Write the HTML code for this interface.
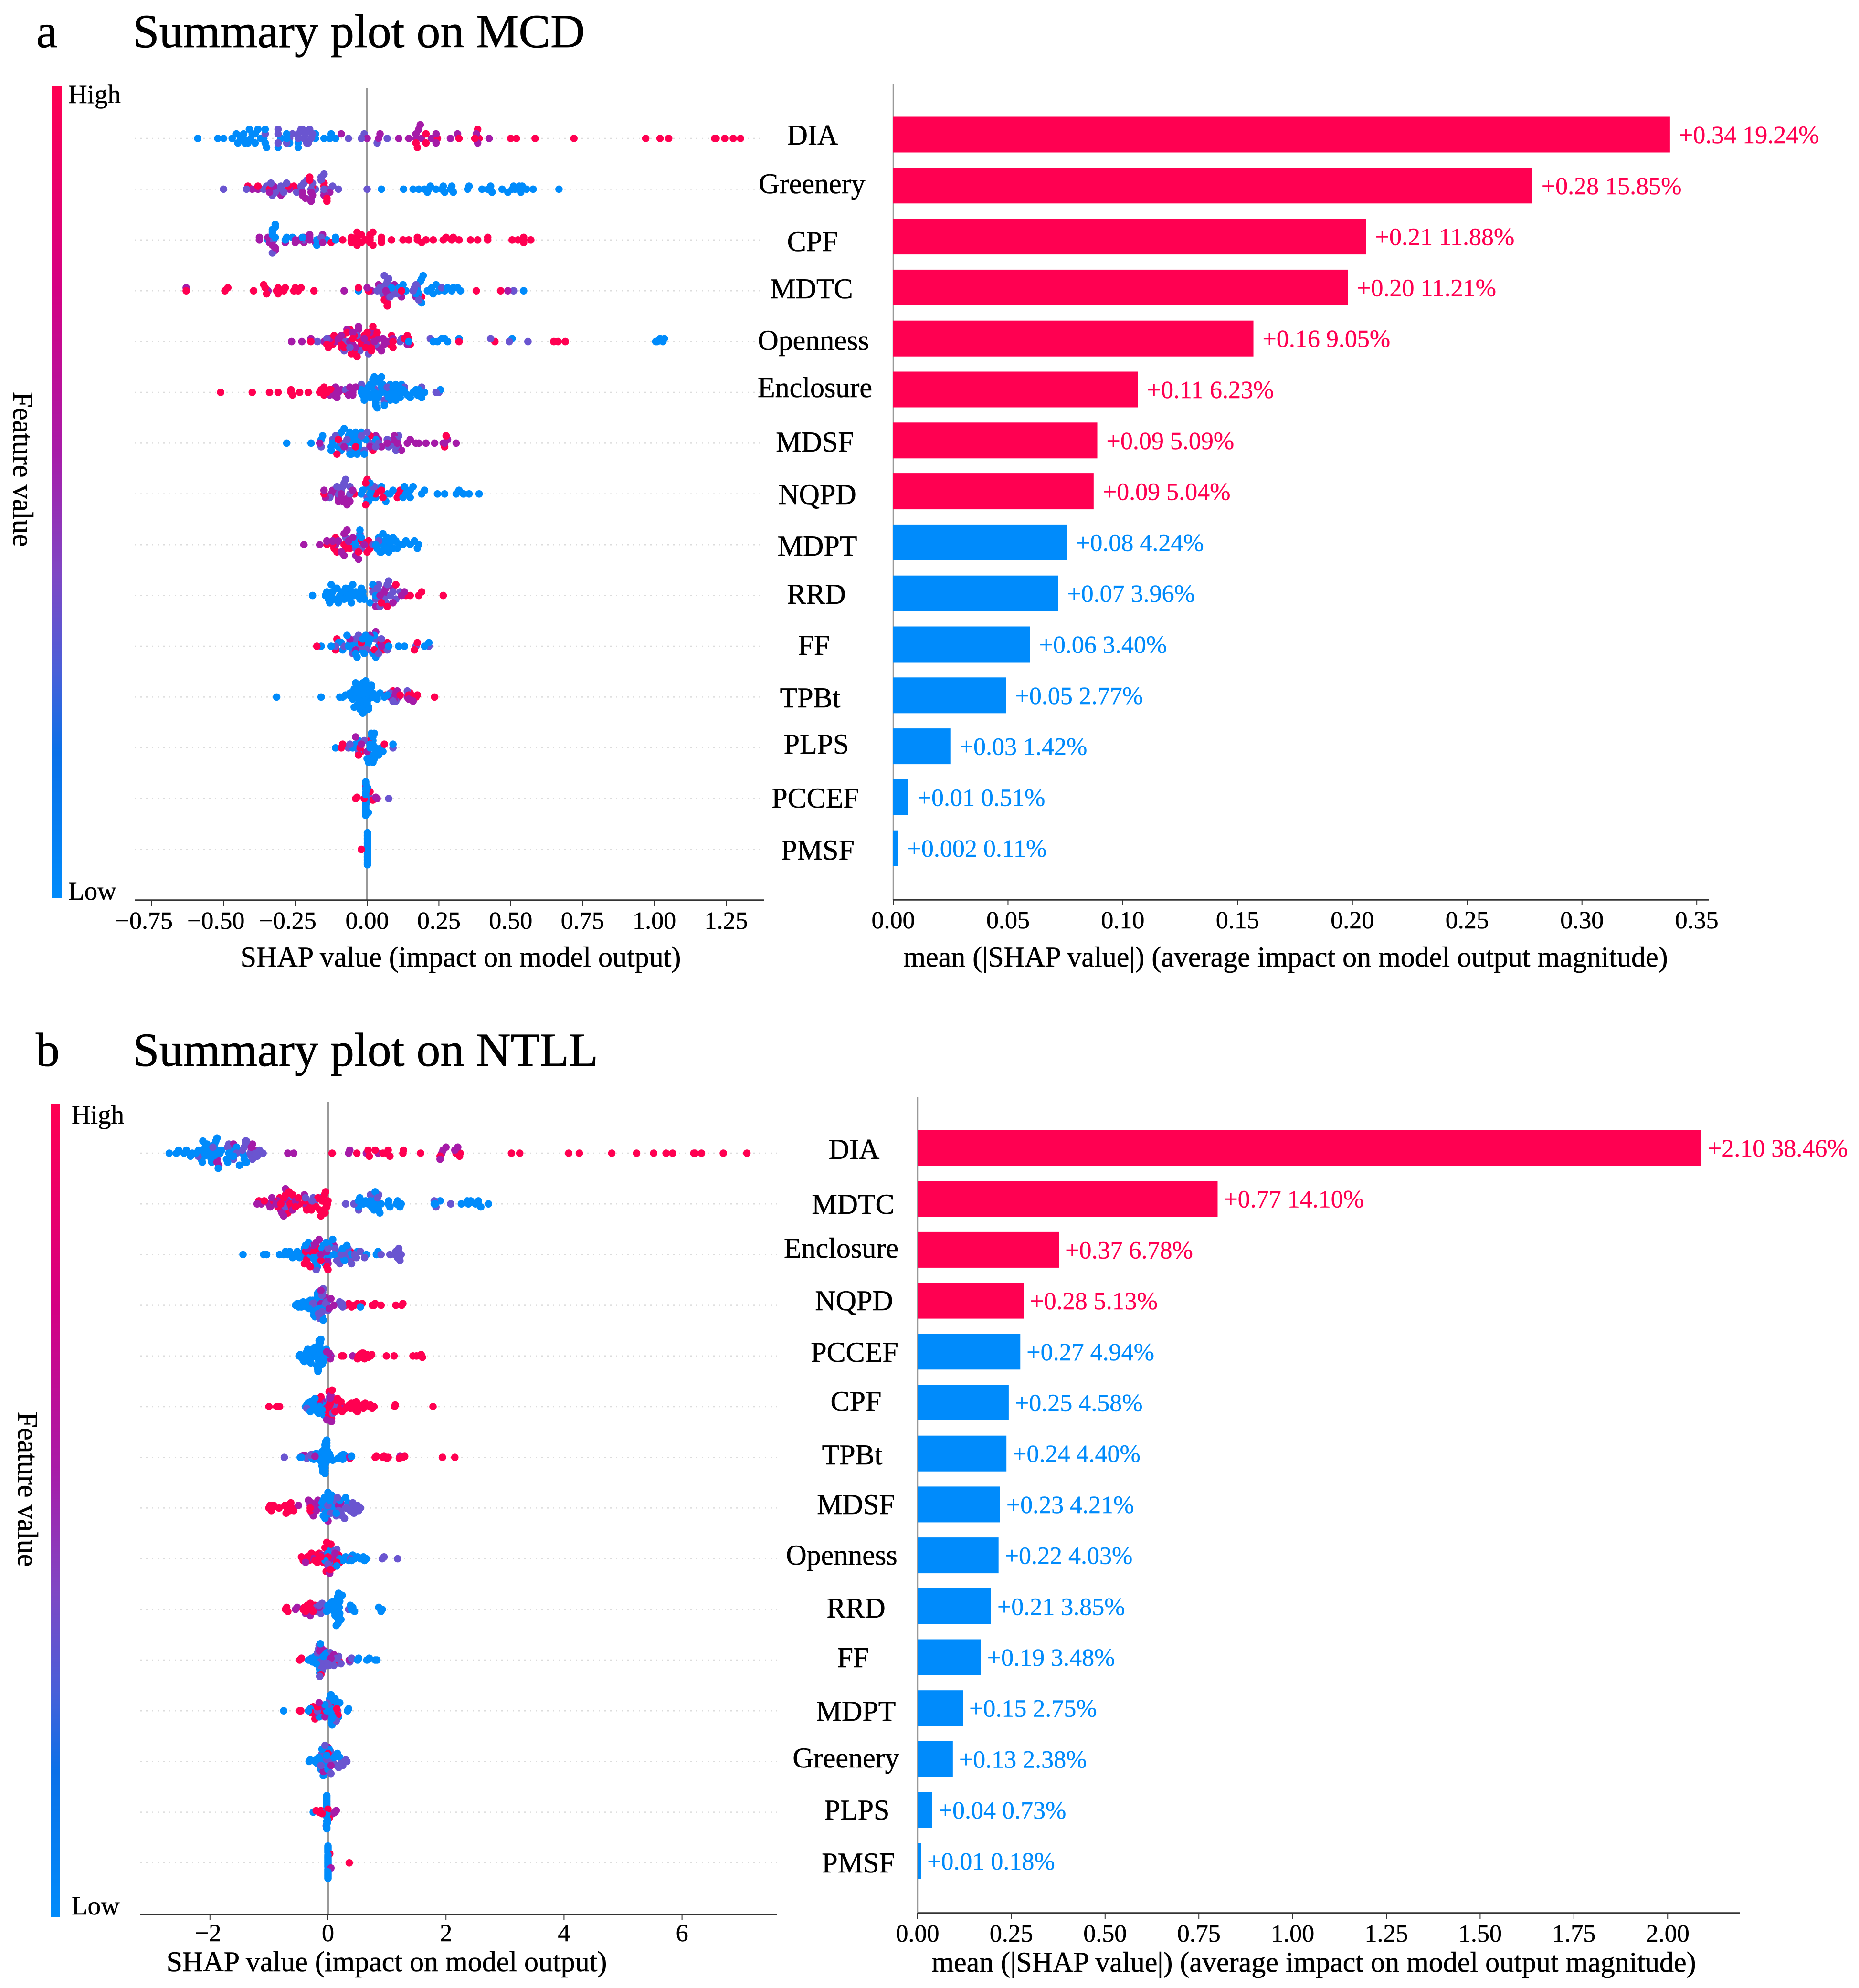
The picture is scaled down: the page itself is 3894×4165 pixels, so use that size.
<!DOCTYPE html>
<html lang="en">
<head>
<meta charset="utf-8">
<title>SHAP summary plots on MCD and NTLL</title>
<style>
  html,body{margin:0;padding:0;background:#fff;}
  svg{display:block;}
  text{font-family:"Liberation Serif","Times New Roman",serif;fill:#000;}
  .title{font-size:100px;stroke:#000;stroke-width:.8px;}
  .axis-title{font-size:60px;text-anchor:middle;stroke:#000;stroke-width:.6px;}
  .feature{font-size:60px;text-anchor:middle;stroke:#000;stroke-width:.6px;}
  .cbar{font-size:55px;stroke:#000;stroke-width:.5px;}
  .tick{font-size:52px;text-anchor:middle;stroke:#000;stroke-width:.5px;}
  .val{font-size:52px;}
</style>
</head>
<body>
<svg id="chart" xmlns="http://www.w3.org/2000/svg" width="3894" height="4165" viewBox="0 0 3894 4165">
  <defs>
    <linearGradient id="cbarGrad" x1="0" y1="0" x2="0" y2="1">
      <stop offset="0" stop-color="#ff0051"/>
      <stop offset="0.25" stop-color="#d40083"/>
      <stop offset="0.45" stop-color="#a81ba8"/>
      <stop offset="0.6" stop-color="#7f47c4"/>
      <stop offset="0.72" stop-color="#4a5fd8"/>
      <stop offset="0.82" stop-color="#0a70e8"/>
      <stop offset="1" stop-color="#008bfb"/>
    </linearGradient>
  </defs>
  <rect x="0" y="0" width="3894" height="4165" fill="#fff"/>

  <!-- Panel a -->
  <text class="title" x="76" y="99">a</text>
  <text class="title" x="278" y="99">Summary plot on MCD</text>
  <rect x="108" y="181" width="21" height="1701" fill="url(#cbarGrad)"/>
  <text class="cbar" x="143" y="216">High</text>
  <text class="cbar" x="143" y="1885">Low</text>
  <text class="axis-title" transform="translate(28,983) rotate(90)">Feature value</text>
  <g id="mcdSwarm"></g>
  <g id="mcdBars"></g>
  <text class="axis-title" x="965" y="2025">SHAP value (impact on model output)</text>
  <text class="axis-title" x="2693" y="2025">mean (|SHAP value|) (average impact on model output magnitude)</text>
  <g>
    <text class="feature" x="1702" y="303">DIA</text>
    <text class="feature" x="1701" y="405">Greenery</text>
    <text class="feature" x="1702" y="526">CPF</text>
    <text class="feature" x="1700" y="625">MDTC</text>
    <text class="feature" x="1704" y="733">Openness</text>
    <text class="feature" x="1707" y="832">Enclosure</text>
    <text class="feature" x="1707" y="946">MDSF</text>
    <text class="feature" x="1712" y="1056">NQPD</text>
    <text class="feature" x="1712" y="1164">MDPT</text>
    <text class="feature" x="1710" y="1265">RRD</text>
    <text class="feature" x="1705" y="1372">FF</text>
    <text class="feature" x="1697" y="1482">TPBt</text>
    <text class="feature" x="1710" y="1579">PLPS</text>
    <text class="feature" x="1708" y="1692">PCCEF</text>
    <text class="feature" x="1713" y="1801">PMSF</text>
  </g>

  <!-- Panel b -->
  <text class="title" x="75" y="2233">b</text>
  <text class="title" x="278" y="2233">Summary plot on NTLL</text>
  <rect x="106" y="2314" width="20" height="1702" fill="url(#cbarGrad)"/>
  <text class="cbar" x="150" y="2354">High</text>
  <text class="cbar" x="150" y="4011">Low</text>
  <text class="axis-title" transform="translate(38,3120) rotate(90)">Feature value</text>
  <g id="ntllSwarm"></g>
  <g id="ntllBars"></g>
  <text class="axis-title" x="810" y="4130">SHAP value (impact on model output)</text>
  <text class="axis-title" x="2752" y="4131">mean (|SHAP value|) (average impact on model output magnitude)</text>
  <g>
    <text class="feature" x="1789" y="2428">DIA</text>
    <text class="feature" x="1787" y="2543">MDTC</text>
    <text class="feature" x="1762" y="2635">Enclosure</text>
    <text class="feature" x="1789" y="2745">NQPD</text>
    <text class="feature" x="1790" y="2853">PCCEF</text>
    <text class="feature" x="1793" y="2956">CPF</text>
    <text class="feature" x="1785" y="3068">TPBt</text>
    <text class="feature" x="1793" y="3172">MDSF</text>
    <text class="feature" x="1763" y="3278">Openness</text>
    <text class="feature" x="1793" y="3389">RRD</text>
    <text class="feature" x="1787" y="3493">FF</text>
    <text class="feature" x="1793" y="3605">MDPT</text>
    <text class="feature" x="1772" y="3703">Greenery</text>
    <text class="feature" x="1795" y="3812">PLPS</text>
    <text class="feature" x="1798" y="3923">PMSF</text>
  </g>
</svg>

<script>
/* ---------- Panel a (MCD) data ---------- */
const mcdFeatures = ["DIA","Greenery","CPF","MDTC","Openness","Enclosure","MDSF","NQPD","MDPT","RRD","FF","TPBt","PLPS","PCCEF","PMSF"];
const mcdMeanAbs = [0.3383,0.2784,0.206,0.198,0.1569,0.1066,0.0889,0.0873,0.0757,0.0718,0.0596,0.0492,0.0249,0.0066,0.0022];
const mcdPrinted = ["+0.34 19.24%","+0.28 15.85%","+0.21 11.88%","+0.20 11.21%","+0.16 9.05%","+0.11 6.23%","+0.09 5.09%","+0.09 5.04%","+0.08 4.24%","+0.07 3.96%","+0.06 3.40%","+0.05 2.77%","+0.03 1.42%","+0.01 0.51%","+0.002 0.11%"];
const mcdRedCount = 8;
const mcdSwarmTicks = [-0.75,-0.5,-0.25,0,0.25,0.5,0.75,1,1.25];
const mcdSwarmTickLabels = ["\u22120.75","\u22120.50","\u22120.25","0.00","0.25","0.50","0.75","1.00","1.25"];
const mcdBarTicks = [0,0.05,0.1,0.15,0.2,0.25,0.3,0.35];
const mcdBarTickLabels = ["0.00","0.05","0.10","0.15","0.20","0.25","0.30","0.35"];

const mcdLow = [
 [-.59,-.52,-.50,-.47,-.455,-.45,-.44,-.43,-.43,-.425,-.415,-.41,-.405,-.40,-.39,-.39,-.38,-.37,-.36,-.355,-.355,-.35,-.31,-.30,-.28,-.28,-.27,-.24,-.24,-.18,-.18,-.15,-.13,-.125,-.11],
 [.05,.127,.16,.18,.20,.21,.215,.22,.24,.26,.265,.27,.29,.295,.30,.35,.355,.40,.42,.43,.435,.47,.49,.505,.51,.515,.53,.535,.54,.555,.578,.668],
 [-.345,-.33,-.33,-.33,-.32,-.32,-.32,-.285,-.28,-.26,-.225,-.175,-.175,-.14,-.11,-.11],
 [-.03,.085,.11,.125,.135,.17,.175,.18,.185,.19,.19,.195,.21,.22,.225,.23,.24,.25,.27,.28,.295,.30,.315,.325,.545],
 [.14,.145,.23,.245,.26,.27,.28,.32,.505,1.005,1.01,1.02,1.03,1.035],
 [-.02,-.02,-.015,-.015,-.01,-.01,0,0,.005,.005,.01,.01,.015,.02,.02,.02,.025,.025,.03,.03,.03,.03,.035,.035,.04,.04,.04,.045,.05,.05,.05,.055,.06,.06,.065,.07,.07,.075,.08,.08,.085,.09,.09,.095,.10,.10,.105,.11,.11,.115,.12,.12,.125,.13,.13,.14,.15,.16,.17,.175,.18,.185,.19,.19,.20,.255],
 [-.28,-.195,-.16,-.155,-.125,-.125,-.12,-.10,-.10,-.09,-.09,-.08,-.07,-.065,-.06,-.06,-.055,-.05,-.05,-.045,-.04,-.04,-.035,-.03,-.03,-.03,-.02,-.02,-.01,-.005,.03],
 [-.02,-.015,0,0,.005,.01,.01,.015,.02,.03,.05,.065,.07,.08,.09,.125,.13,.135,.14,.145,.15,.15,.16,.19,.20,.245,.27,.31,.32,.335,.355,.39],
 [-.05,-.04,-.035,-.03,-.025,-.02,.03,.035,.04,.045,.05,.055,.055,.06,.065,.07,.075,.08,.085,.09,.09,.10,.105,.115,.125,.135,.15,.165,.175,.18],
 [-.19,-.145,-.14,-.135,-.13,-.125,-.125,-.12,-.115,-.11,-.105,-.10,-.095,-.09,-.09,-.08,-.075,-.07,-.065,-.06,-.06,-.055,-.05,-.045,-.04,-.035,-.03,-.025,-.02,-.015,-.015,-.01,.01,.02,.03],
 [-.16,-.125,-.10,-.09,-.085,-.07,-.065,-.06,-.05,-.045,-.04,-.035,-.03,-.02,-.015,-.01,-.005,0,.005,.01,.02,.025,.03,.04,.075,.11,.13,.20,.215],
 [-.315,-.16,-.095,-.085,-.075,-.06,-.055,-.05,-.05,-.045,-.045,-.04,-.04,-.04,-.035,-.035,-.03,-.03,-.03,-.025,-.025,-.025,-.025,-.02,-.02,-.02,-.02,-.015,-.015,-.015,-.015,-.01,-.01,-.01,-.01,-.01,-.005,-.005,-.005,-.005,0,0,0,0,.005,.005,.005,.01,.01,.015,.015,.02,.02,.025,.03,.035,.045,.06,.07],
 [-.11,-.05,-.04,-.03,0,.005,.01,.01,.015,.015,.015,.02,.02,.02,.02,.025,.025,.03,.03,.04,.05,.055,.09],
 [-.005,-.005,-.005,-.005,-.005,-.005,-.005,-.005,-.005,-.005,-.005,-.005,-.005,-.005,-.005,-.005,-.005,-.005,-.002,-.002,.001,.004],
 [.001,.001,.001,.001,.001,.001,.001,.001,.001,.001,.001,.001,.001,.001,.001,.001,.001,.001,.001,.001,.001,.001,.001,.001]
];
const mcdMidLow = [
 [-.355,-.31,-.31,-.31,-.28,-.27,-.26,-.24,-.24,-.23,-.225,-.22,-.215,-.21,-.205,-.20,-.195,-.19,-.065,-.02,-.01,.035,.07],
 [-.50,-.42,-.36,-.35,-.335,-.335,-.33,-.32,-.32,-.30,-.30,-.29,-.28,-.245,-.23,-.23,-.22,-.21,-.195,-.195,-.19,-.18,-.16,-.16,-.15,-.15,-.15,-.13,-.12,-.10,0],
 [-.33,-.325,-.22,-.16],
 [.035,.045,.055,.06,.065,.065,.07,.075,.08,.09,.095,.105,.16,.165,.17,.175,.175,.18,.26,.51],
 [-.173,-.14,-.08,-.075,-.07,-.06,-.035,-.025,.005,.015,.03,.115,.12,.22,.43,.495,.56],
 [-.075,-.02,.03,.06,.07,.06,.13,.19,.24,.25],
 [-.16,-.12,-.11,-.09,-.07,-.06,-.02,-.01,0,.01,.02,.03,.04,.07,.075,.09,.10,.10,.105,.11],
 [-.13,-.105,-.10,-.09,-.085,-.08,-.075,-.06,-.06,0,.02,.025],
 [-.075,-.04,-.025,-.02,.02,.04],
 [.02,.03,.035,.04,.045,.05,.05,.06,.065,.07,.075,.08,.09,.10,.115],
 [-.11,-.08,-.05,-.04,-.03,-.02,0,.03,.04,.05,.07,.17,.215],
 [.08,.09,.10,.14],
 [-.065,-.06,-.03,-.01,.09],
 [.075,.005],
 []
];
const mcdMidHigh = [
 [-.09,0,.04,.045,.11,.145,.17,.17,.18,.185,.19,.225,.24,.24,.29,.315,.38,.385,.425],
 [-.40,-.38,-.34,-.325,-.30,-.27,-.245,-.225,-.225,-.215,-.195,-.195,-.19,-.15,-.13],
 [-.375,-.375,-.345,-.34,-.33,-.32,-.32,-.285,-.25,-.25,-.235,-.22,-.22,-.20,-.20,-.20,-.18,-.155,-.155],
 [-.63,-.345,-.08,0,.015,.04,.065,.07,.075,.095,.12,.17,.49],
 [-.263,-.227,-.196,-.15,-.13,-.11,-.10,-.09,-.07,-.06,-.05,-.05,-.04,-.03,-.03,-.02,-.01,0,.01,.02,.025,.04,.04,.05,.055,.06,.07,.09,.14],
 [-.13,-.115,-.11,-.105,-.105,-.10,-.09,-.065,-.06,-.05,-.05,-.05,-.04],
 [-.165,-.08,.01,.03,.04,.05,.07,.09,.095,.105,.11,.12,.14,.15,.17,.18,.205,.235,.265,.27,.28,.31],
 [-.15,-.145,-.125,-.12,-.11,-.10,-.10,-.09,-.09,-.085,-.07,-.065,-.06,-.05],
 [-.22,-.165,-.14,-.12,-.11,-.10,-.09,-.08,-.08,-.07,-.07,-.065,-.05,-.04,-.03,-.01],
 [.03,.045,.055,.06,.065,.09,.09,.12,.13],
 [-.06,-.04,.01,.03,.045,.05],
 [.08,.09,.095,.10,.105,.11,.14,.145,.16],
 [-.04,-.02,0],
 [.035,.03,-.005],
 []
];
const mcdHigh = [
 [.17,.175,.205,.205,.245,.32,.375,.385,.39,.50,.52,.585,.72,.97,1.02,1.05,1.21,1.215,1.245,1.275,1.30],
 [-.415,-.38,-.34,-.275,-.255,-.20,-.20,-.19,-.15,-.15,-.14,-.14],
 [-.125,-.085,-.055,-.055,-.055,-.035,-.035,-.035,-.035,-.02,-.02,-.005,.01,.01,.01,.01,.02,.02,.05,.05,.05,.085,.125,.145,.175,.175,.19,.205,.23,.265,.275,.295,.30,.32,.36,.385,.42,.42,.505,.525,.545,.545,.545,.57],
 [-.63,-.495,-.485,-.395,-.36,-.355,-.35,-.315,-.31,-.31,-.29,-.285,-.255,-.25,-.24,-.23,-.185,-.03,.005,.06,.07,.07,.12,.19,.38,.465],
 [-.196,-.14,-.135,-.125,-.12,-.115,-.09,-.09,-.085,-.085,-.08,-.07,-.06,-.055,-.05,-.045,-.045,-.04,-.04,-.035,-.03,-.02,-.01,-.005,0,0,.005,.01,.015,.015,.02,.03,.03,.035,.08,.085,.09,.09,.13,.14,.145,.15,.32,.445,.65,.665,.69],
 [-.51,-.40,-.34,-.31,-.265,-.265,-.26,-.235,-.205,-.165,-.16,-.15,-.15,-.14,-.13,-.125,-.07],
 [-.105,-.10,-.04,.01,.02,.27,.275],
 [-.15,-.045,-.005,-.005,0,.03,.045,.05,.055,.105,.11,.115],
 [-.14,-.12,-.115,-.11,-.105,-.08,-.075,-.06,-.03,-.02,0,.005,.01],
 [.02,.05,.07,.10,.135,.15,.18,.19,.265],
 [-.175,-.11,-.105,-.02,.025,.05,.055,.07,.165,.175],
 [.065,.09,.115,.145,.15,.17,.175,.235],
 [-.09,-.085,-.03,-.025,-.02,.01,.06],
 [-.04,-.035,-.01,.01,.02],
 [-.02]
];

/* ---------- Panel b (NTLL) data ---------- */
const ntllFeatures = ["DIA","MDTC","Enclosure","NQPD","PCCEF","CPF","TPBt","MDSF","Openness","RRD","FF","MDPT","Greenery","PLPS","PMSF"];
const ntllMeanAbs = [2.09,0.80,0.377,0.283,0.274,0.243,0.237,0.22,0.216,0.196,0.169,0.121,0.094,0.039,0.009];
const ntllPrinted = ["+2.10 38.46%","+0.77 14.10%","+0.37 6.78%","+0.28 5.13%","+0.27 4.94%","+0.25 4.58%","+0.24 4.40%","+0.23 4.21%","+0.22 4.03%","+0.21 3.85%","+0.19 3.48%","+0.15 2.75%","+0.13 2.38%","+0.04 0.73%","+0.01 0.18%"];
const ntllRedCount = 4;
const ntllSwarmTicks = [-2,0,2,4,6];
const ntllSwarmTickLabels = ["\u22122","0","2","4","6"];
const ntllBarTicks = [0,0.25,0.5,0.75,1,1.25,1.5,1.75,2];
const ntllBarTickLabels = ["0.00","0.25","0.50","0.75","1.00","1.25","1.50","1.75","2.00"];

const ntllLow = [
 [-2.69,-2.57,-2.53,-2.44,-2.40,-2.33,-2.30,-2.24,-2.19,-2.15,-2.13,-2.12,-2.10,-2.10,-2.08,-2.07,-2.05,-2.03,-2.02,-2.0,-2.0,-1.98,-1.97,-1.95,-1.93,-1.92,-1.90,-1.88,-1.86,-1.85,-1.83,-1.80,-1.72,-1.70,-1.68,-1.65,-1.62,-1.60,-1.55,-1.50,-1.45,-1.42,-1.42,-1.40,-1.38],
 [.5,.52,.52,.54,.6,.64,.68,.72,.74,.77,.78,.8,.82,.84,.86,.88,.9,1.02,1.03,1.05,1.16,1.18,1.22,1.24,1.8,1.82,1.9,2.26,2.36,2.38,2.42,2.5,2.55,2.59,2.72],
 [-1.44,-1.09,-1.04,-.82,-.75,-.72,-.68,-.65,-.6,-.58,-.52,-.48,-.46,-.4,-.38,-.35,-.33,-.3,-.28,-.25,-.22,-.2,-.18,-.15,-.12,-.1,-.08,-.05,-.03,0,0,.02,.05,.08,.1,.15,.2,.25,.28,.32,.38,.5,.65,.82,.85],
 [-.55,-.52,-.5,-.48,-.45,-.42,-.4,-.38,-.36,-.34,-.32,-.3,-.28,-.26,-.24,-.24,-.22,-.22,-.2,-.2,-.18,-.18,-.16,-.16,-.14,-.14,-.12,-.1,-.08,-.06,-.04,0,0,.55],
 [-.49,-.47,-.45,-.43,-.42,-.4,-.39,-.38,-.37,-.36,-.35,-.34,-.33,-.32,-.31,-.3,-.29,-.28,-.27,-.26,-.25,-.24,-.23,-.22,-.21,-.2,-.19,-.18,-.17,-.16,-.16,-.16,-.16,-.16,-.16,-.15,-.15,-.15,-.15,-.15,-.15,-.14,-.14,-.14,-.13,-.12,-.12,-.1,-.1,-.09,-.08,-.08,-.07,-.06,-.05,-.04,-.03,-.02],
 [-.38,-.36,-.34,-.32,-.3,-.3,-.28,-.26,-.26,-.24,-.24,-.22,-.22,-.2,-.2,-.18,-.16,-.14,-.12,-.1,-.09,-.08,-.07,-.05],
 [-.47,-.45,-.27,-.24,-.22,-.2,-.18,-.16,-.15,-.14,-.13,-.12,-.11,-.1,-.1,-.09,-.09,-.08,-.08,-.07,-.07,-.06,-.06,-.06,-.05,-.05,-.05,-.05,-.05,-.05,-.05,-.05,-.05,-.04,-.04,-.04,-.04,-.04,-.04,-.03,-.03,-.03,-.03,-.02,-.02,-.02,-.01,-.01,0,.01,.02,.03,.04,.05,.06,.08,.17,.2,.22,.23,.24,.25,.26,.28,.3,.4],
 [-.12,-.1,-.08,-.08,-.06,-.05,-.05,-.04,-.03,-.02,-.02,0,0,.02,.03,.05,.06,.08,.1,.14,.2,.3,.34],
 [-.1,-.05,0,.05,.1,.15,.2,.25,.3,.35,.4,.42,.45,.5,.55,.6,.62,.65],
 [-.05,-.02,0,.02,.05,.08,.08,.1,.1,.12,.12,.14,.14,.15,.16,.16,.17,.18,.18,.18,.18,.18,.18,.19,.2,.2,.22,.24,.38,.4,.42,.45,.86,.9,.92],
 [-.33,-.3,-.28,-.26,-.22,-.2,-.18,-.16,-.15,-.14,-.14,-.13,-.12,-.1,-.08,-.05,-.02,.03,.05,.5,.52,.66,.7,.8,.83],
 [-.75,-.33,-.3,-.15,-.1,-.05,-.02,0,.02,.03,.04,.05,.05,.05,.06,.06,.07,.07,.08,.08,.09,.1,.12,.14,.16,.18,.2,.33,.35],
 [-.32,-.3,-.22,-.2,-.18,-.16,-.14,-.14,-.12,-.12,-.1,-.08,-.06,-.04,-.02,0,.02,.04,.08,.1,.14,.16,.2],
 [-.25,-.02,-.02,-.02,-.02,-.02,-.02,-.02,-.02,-.02,-.02,-.02,-.02,-.02,-.02,-.02,-.02,-.02,-.02,-.01,-.01],
 [0,0,0,0,0,0,0,0,0,0,0,0,0,0,0,0,0,0,0,0,0,0,0,0]
];
const ntllMidLow = [
 [-2.2,-2.13,-1.95,-1.7,-1.68,-1.6,-1.55,-1.45,-1.42,-1.40,-1.40,-1.38,-1.32,-1.30,-1.28,-1.22,-1.20,-1.16,-1.10],
 [-.72,-.62,-.38,-.27,-.25,-.23,-.12,.3,.44,.52,.72,.8,.84,.86,1.8,1.83,2.08],
 [-.2,-.1,0,.12,.15,.2,.22,.28,.3,.34,.37,.4,.45,.48,.55,.62,.9,1.05,1.13,1.15,1.18,1.2,1.22,1.24],
 [-.26,-.2,-.18,-.16,-.15,-.14,-.13,-.12,-.1,-.1,-.09,-.08,-.06,-.04,-.02,0,.2,.22,.24,.25],
 [.02,.04],
 [-.36,.02,.03,.04,.08,.1,.12],
 [-.74,-.36,-.32,-.3,-.29,-.28],
 [-.05,0,.05,.12,.14,.16,.18,.2,.22,.24,.28,.3,.32,.35,.38,.42,.44,.47,.5,.52,.55],
 [-.05,0,.05,.1,.15,.2,.38,.92,.95,1.18],
 [-.25,-.2,-.15,-.12,-.1,-.08,.35],
 [-.18,-.16,-.15,-.14,-.13,-.12,-.11,-.1,-.08,-.06,-.04,-.02,0,.02,.04,.06,.1,.15,.18,.22,.37,.38,.4],
 [-.18,0,.03,.1,.14,.16],
 [-.15,-.12,-.1,-.08,-.06,-.05,-.02,0,.02,.04,.05,.08,.1,.15,.18,.22,.25,.28,.3,.32],
 [-.03],
 []
];
const ntllMidHigh = [
 [-1.88,-1.88,-1.85,-1.6,-1.6,-1.30,-1.30,-1.28,-1.25,-.68,-.58,.35,.37,.65,.85,1.9,1.93,1.95,2.0,2.15,2.2],
 [-1.2,-1.13,-1.0,-.98,-.95,-.88,-.85,-.8,-.78,-.75,-.72,-.7,-.65,-.6,-.55,-.4,-.38],
 [-.38,-.35,-.25,-.2,-.15,-.12,-.02,-.01,0,.1],
 [-.16,-.14,-.12,-.12,-.1,-.05,.02,.05,.1],
 [-.02,.02,.04,.05,.42],
 [-.14,-.1,-.02,0,0,.02,.04,.05,.06,.2],
 [-.44,-.4,-.22,.36,1.22],
 [-.5,-.33,-.3,-.28,-.27,-.26,-.25,-.24,-.22,-.2,-.18,-.17,0,.18,.2,.22],
 [-.38,-.25,-.1,0,.02,.03,.05,.06,.1,.12],
 [-.55,-.52,-.38,-.3,-.2,-.15],
 [-.14,-.12,-.05,.05,.1,.36],
 [-.22,-.2,-.15,-.1,-.05,.1],
 [-.08,-.05,0,.02,.05],
 [.08,.12,.14],
 [.05]
];
const ntllHigh = [
 [.07,.49,.66,.68,.70,.8,.93,1.0,1.02,1.05,1.27,1.28,1.57,1.9,2.17,2.23,2.24,3.11,3.25,4.08,4.26,4.81,5.23,5.52,5.73,5.84,6.2,6.22,6.33,6.7,7.1],
 [-1.17,-1.08,-.92,-.85,-.82,-.80,-.75,-.72,-.70,-.68,-.66,-.64,-.62,-.6,-.55,-.5,-.48,-.38,-.37,-.36,-.30,-.28,-.25,-.23,-.20,-.17,-.14,-.12,-.10,-.08,-.06,-.05,-.04,-.03,-.02,-.01,0],
 [-.4,-.38,-.37,-.36,-.35,-.3,-.28,-.25,-.18,-.12,-.02,0,.38,.42],
 [.3,.35,.4,.45,.5,.55,.58,.75,.78,.8,.9,1.15,1.25,1.27],
 [.23,.26,.5,.52,.54,.56,.58,.6,.62,.64,.66,.68,.72,.74,.99,1.12,1.44,1.5,1.58,1.6],
 [-1.0,-.87,-.82,-.15,-.12,-.1,-.02,0,.01,.02,.03,.04,.05,.05,.06,.07,.08,.09,.1,.12,.14,.16,.18,.2,.2,.22,.24,.26,.3,.34,.36,.38,.4,.42,.44,.46,.47,.48,.5,.52,.56,.59,.6,.63,.7,.72,.75,.78,1.13,1.14,1.78],
 [.37,.8,.82,.93,.95,1.0,1.02,1.21,1.24,1.27,1.3,1.94,2.15],
 [-1.0,-.98,-.96,-.94,-.92,-.83,-.73,-.71,-.69,-.67,-.65,-.63,-.6,-.58,-.3,-.3],
 [-.45,-.42,-.4,-.38,-.35,-.32,-.3,-.28,-.25,-.22,-.2,-.18,-.15,-.12,-.1,-.08,-.05,-.03,-.02,0,0,.02,.04,.05,.08,.1,.12,.15,.18,.2],
 [-.72,-.7,-.68,-.42,-.4,-.38,-.35,-.32,-.3,-.28,-.25,-.22],
 [-.48,-.45,-.12,.12,.18,.2],
 [-.48,-.46,-.28,-.25,-.22,-.2,-.18,-.15,-.12,-.1,.15,.17],
 [0,.02],
 [-.2,-.15,-.12,-.1,0,.02],
 [.03,.36]
];

/* ---------- Drawing ---------- */
const SVG_NS = "http://www.w3.org/2000/svg";
const RED = "#ff0051";
const BLUE = "#008bfb";
const tierColors = [BLUE, "#6a55d0", "#a51ba8", RED];
const SWARM_BIN_PX = 14;

function makeEl(parent, tag, attrs, text) {
  const el = document.createElementNS(SVG_NS, tag);
  for (const k in attrs) el.setAttribute(k, attrs[k]);
  if (text !== undefined) el.textContent = text;
  parent.appendChild(el);
  return el;
}

/* Vertical jitter: SHAP-style layering within fixed-width pixel bins. */
function swarmLayers(values, halfHeight, pxPerUnit) {
  const n = values.length;
  if (!n) return [];
  const lo = Math.min.apply(null, values);
  const quant = values.map(v => Math.round((v - lo) * pxPerUnit / SWARM_BIN_PX));
  const idx = values.map((_, i) => i);
  idx.sort((a, b) => quant[a] - quant[b] || ((a * 37) % 17) - ((b * 37) % 17) || a - b);
  const ys = new Array(n).fill(0);
  let layer = 0, last = -1;
  idx.forEach(i => {
    if (quant[i] !== last) layer = 0;
    ys[i] = Math.ceil(layer / 2) * ((layer % 2) * 2 - 1);
    layer++;
    last = quant[i];
  });
  const top = Math.max.apply(null, ys.map(y => y + 1));
  return ys.map(y => y * halfHeight / top);
}

function drawSwarm(cfg) {
  const g = document.getElementById(cfg.groupId);
  cfg.features.forEach((name, r) => {
    const rowY = cfg.rowY(r);
    const line = makeEl(g, "line", {x1: cfg.gridFrom, x2: cfg.gridTo, y1: rowY, y2: rowY, stroke: "#dcdcdc", "stroke-width": 2.5, "stroke-dasharray": "3 9"});
    
    
  });
  const zero = makeEl(g, "line", {x1: cfg.x(0), x2: cfg.x(0), y1: cfg.zeroTop, y2: cfg.axisY, stroke: "#999", "stroke-width": 4});
  
  
  const pxPerUnit = cfg.x(1) - cfg.x(0);
  cfg.features.forEach((name, r) => {
    const values = [], tiers = [];
    cfg.tiers.forEach((tier, t) => tier[r].forEach(v => { values.push(v); tiers.push(t); }));
    const offs = swarmLayers(values, 38, pxPerUnit);
    const order = values.map((_, i) => i).sort((a, b) => ((a * 41) % 23) - ((b * 41) % 23) || a - b);
    order.forEach(i => {
      const dot = makeEl(g, "circle", {cx: cfg.x(values[i]), cy: cfg.rowY(r) - offs[i], r: 7.8, fill: tierColors[tiers[i]]});
      
      
    });
  });
  drawAxis(g, cfg);
}

function drawAxis(g, cfg) {
  const axis = makeEl(g, "line", {x1: cfg.axisFrom, x2: cfg.axisTo, y1: cfg.axisY, y2: cfg.axisY, stroke: "#333", "stroke-width": 3.5});
  
  
  cfg.ticks.forEach((t, i) => {
    const tx = cfg.x(t);
    const tick = makeEl(g, "line", {x1: tx, x2: tx, y1: cfg.axisY, y2: cfg.axisY + 12, stroke: "#333", "stroke-width": 2});
    
    
    const shift = t < 0 ? cfg.negShift : 0;
    const lab = makeEl(g, "text", {class: "tick", x: tx + shift, y: cfg.tickBase}, cfg.tickLabels[i]);
    
    
  });
}

function drawBars(cfg) {
  const g = document.getElementById(cfg.groupId);
  const spine = makeEl(g, "line", {x1: cfg.x(0), x2: cfg.x(0), y1: cfg.spineTop, y2: cfg.axisY, stroke: "#999", "stroke-width": 2.5});
  
  
  cfg.features.forEach((name, r) => {
    const color = r < cfg.redCount ? RED : BLUE;
    const cy = cfg.rowY(r);
    const bar = makeEl(g, "rect", {x: cfg.x(0), y: cy - 37.5, width: cfg.x(cfg.values[r]) - cfg.x(0), height: 75, fill: color});
    
    
    const lab = makeEl(g, "text", {class: "val", x: cfg.x(cfg.values[r]) + cfg.labelGap, y: cy + 18, style: "fill:" + color + ";stroke:" + color + ";stroke-width:.4px"}, cfg.printed[r]);
    
    
  });
  drawAxis(g, cfg);
}

drawSwarm({
  groupId: "mcdSwarm", features: mcdFeatures, tiers: [mcdLow, mcdMidLow, mcdMidHigh, mcdHigh],
  x: v => 769 + 601.6 * v, rowY: r => 290 + 106.4 * r,
  gridFrom: 282, gridTo: 1600, zeroTop: 184, axisY: 1886, axisFrom: 282, axisTo: 1600,
  ticks: mcdSwarmTicks, tickLabels: mcdSwarmTickLabels, tickBase: 1946, negShift: -16
});
drawBars({
  groupId: "mcdBars", features: mcdFeatures, values: mcdMeanAbs, printed: mcdPrinted, redCount: mcdRedCount, labelGap: 19,
  x: v => 1871 + 4809 * v, rowY: r => 282 + 106.8 * r,
  spineTop: 175, axisY: 1885, axisFrom: 1871, axisTo: 3580,
  ticks: mcdBarTicks, tickLabels: mcdBarTickLabels, tickBase: 1945, negShift: 0
});
drawSwarm({
  groupId: "ntllSwarm", features: ntllFeatures, tiers: [ntllLow, ntllMidLow, ntllMidHigh, ntllHigh],
  x: v => 687 + 123.6 * v, rowY: r => 2416 + 106.2 * r,
  gridFrom: 294, gridTo: 1628, zeroTop: 2308, axisY: 4011, axisFrom: 294, axisTo: 1628,
  ticks: ntllSwarmTicks, tickLabels: ntllSwarmTickLabels, tickBase: 4067, negShift: -4
});
drawBars({
  groupId: "ntllBars", features: ntllFeatures, values: ntllMeanAbs, printed: ntllPrinted, redCount: ntllRedCount, labelGap: 13,
  x: v => 1922 + 785.6 * v, rowY: r => 2405 + 106.7 * r,
  spineTop: 2298, axisY: 4008, axisFrom: 1922, axisTo: 3645,
  ticks: ntllBarTicks, tickLabels: ntllBarTickLabels, tickBase: 4068, negShift: 0
});
</script>
</body>
</html>
